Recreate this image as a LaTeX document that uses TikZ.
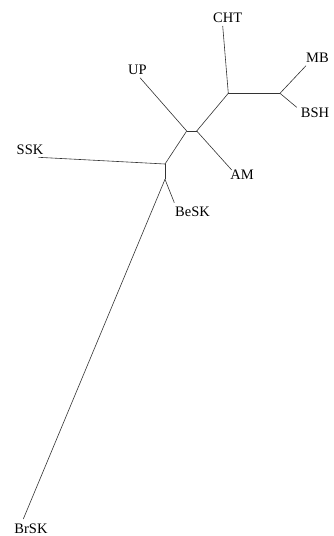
\documentclass[tikz,border=0pt]{standalone}
\usepackage{fontspec}
\setmainfont{Liberation Serif}
\begin{document}
\begin{tikzpicture}[x=1pt,y=-1pt,
  edge/.style={draw=black!80,line width=0.6pt},
  lbl/.style={inner sep=0pt,font=\fontsize{14.5}{17}\selectfont}]
\useasboundingbox (0,0) rectangle (334,536);
% internal nodes
\coordinate (n1) at (165,164);
\coordinate (n2) at (165,179.3);
\coordinate (n3) at (186.7,131);
\coordinate (n4) at (196.7,131);
\coordinate (n5) at (228.3,93.3);
\coordinate (n6) at (280,93.3);
% tips
\coordinate (tCHT) at (222.7,26);
\coordinate (tMB) at (306,65.7);
\coordinate (tBSH) at (296.7,107.3);
\coordinate (tUP) at (140,77.7);
\coordinate (tAM) at (231.7,170);
\coordinate (tSSK) at (38.3,157.3);
\coordinate (tBeSK) at (174.3,202.7);
\coordinate (tBrSK) at (23.3,519);
% labels
\node[lbl] (CHT) at (227.7,18) {CHT};
\node[lbl] (MB) at (317.5,58) {MB};
\node[lbl] (BSH) at (315,113) {BSH};
\node[lbl] (UP) at (137.5,70) {UP};
\node[lbl] (AM) at (242,175) {AM};
\node[lbl] (SSK) at (30,150) {SSK};
\node[lbl] (BeSK) at (192.5,212) {BeSK};
\node[lbl] (BrSK) at (31,528.5) {BrSK};
% edges
\draw[edge] (n1) -- (n2);
\draw[edge] (n1) -- (n3);
\draw[edge] (n3) -- (n4);
\draw[edge] (n4) -- (n5);
\draw[edge] (n5) -- (n6);
\draw[edge] (n5) -- (tCHT);
\draw[edge] (n6) -- (tMB);
\draw[edge] (n6) -- (tBSH);
\draw[edge] (n3) -- (tUP);
\draw[edge] (n4) -- (tAM);
\draw[edge] (n1) -- (tSSK);
\draw[edge] (n2) -- (tBeSK);
\draw[edge] (n2) -- (tBrSK);
\end{tikzpicture}
\end{document}
